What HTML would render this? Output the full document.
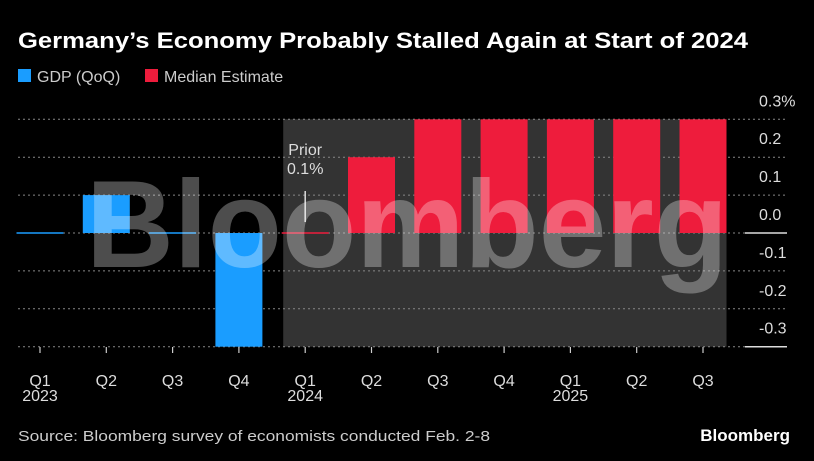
<!DOCTYPE html>
<html><head><meta charset="utf-8"><style>
body{margin:0;background:#000;width:814px;height:461px;overflow:hidden;font-family:"Liberation Sans",sans-serif}
svg{display:block}
</style></head><body>
<svg width="814" height="461">
<text x="18" y="48" fill="#fff" font-size="22" font-weight="bold" textLength="730" lengthAdjust="spacingAndGlyphs">Germany’s Economy Probably Stalled Again at Start of 2024</text>
<g>
<rect x="18" y="69" width="13" height="13" fill="#1a9dff"/>
<text x="37" y="82" fill="#ccc" font-size="16">GDP (QoQ)</text>
<rect x="145" y="69" width="13" height="13" fill="#ee1c3c"/>
<text x="164" y="82" fill="#ccc" font-size="16">Median Estimate</text>
</g>
<g id="plot"></g>
<text x="18" y="441" fill="#ccc" font-size="15" textLength="472" lengthAdjust="spacingAndGlyphs">Source: Bloomberg survey of economists conducted Feb. 2-8</text>
<text x="790" y="441" fill="#fff" font-size="17" font-weight="bold" text-anchor="end">Bloomberg</text>
</svg>
<script>
const categories=["Q1","Q2","Q3","Q4","Q1","Q2","Q3","Q4","Q1","Q2","Q3"];
const years=["2023","","","","2024","","","","2025","",""];
const gdpValues=[0.0,0.1,0.0,-0.3,null,null,null,null,null,null,null];
const medianValues=[null,null,null,null,0.0,0.2,0.3,0.3,0.3,0.3,0.3];
const yTicks=[0.3,0.2,0.1,0.0,-0.1,-0.2,-0.3];
const yTickLabels=["0.3%","0.2","0.1","0.0","-0.1","-0.2","-0.3"];
const NS="http://www.w3.org/2000/svg";
const g=document.getElementById('plot');
const x0=40,step=66.3,bw=47;
function xc(i){return x0+i*step;}
function y(v){return 233-v*(113.7/0.3);}
function mk(t,a,p){const e=document.createElementNS(NS,t);for(const k in a)e.setAttribute(k,a[k]);(p||g).appendChild(e);return e;}
let sh=mk('rect',{x:xc(4)-22,y:y(0.3),width:xc(10)+bw/2-(xc(4)-22),height:y(-0.3)-y(0.3),fill:'#333'});


yTicks.forEach((t,i)=>{
  const l=mk('line',{x1:18,x2:786,y1:y(t),y2:y(t),stroke:'#888','stroke-dasharray':'2,3','stroke-width':1});
  
  
  const tx=mk('text',{x:759,y:y(t)-13,fill:'#ddd','font-size':'16'});
  tx.textContent=yTickLabels[i];
  
  
});
[0,-0.3].forEach(t=>{const l=mk('line',{x1:745,x2:787,y1:y(t),y2:y(t),stroke:'#ddd','stroke-width':1.5});

});
function bars(vals,color,name){
  vals.forEach((v,i)=>{
    if(v===null)return;
    let top=Math.min(y(v),y(0)),h=Math.abs(y(v)-y(0));
    if(h<1.5){h=1.5;top=y(0)-0.75;}
    const r=mk('rect',{x:xc(i)-bw/2,y:top,width:bw,height:h,fill:color});
    
    
  });
}
bars(gdpValues,'#1a9dff','gdp');
bars(medianValues,'#ee1c3c','median');
categories.forEach((c,i)=>{
  const tk=mk('line',{x1:xc(i),x2:xc(i),y1:347,y2:353,stroke:'#ccc','stroke-width':1.2});
  
  
  const t=mk('text',{x:xc(i),y:386,fill:'#ddd','font-size':'16','text-anchor':'middle'});
  t.textContent=c;
  
  
  if(years[i]){const yt=mk('text',{x:xc(i),y:401,fill:'#ddd','font-size':'16','text-anchor':'middle'});
  yt.textContent=years[i];
  
  }
});
const pa=mk('line',{x1:xc(4),x2:xc(4),y1:191,y2:222,stroke:'#ddd','stroke-width':1.5});


const p1=mk('text',{x:xc(4),y:155,fill:'#ddd','font-size':'16','text-anchor':'middle'});p1.textContent='Prior';


const p2=mk('text',{x:xc(4),y:174,fill:'#ddd','font-size':'16','text-anchor':'middle'});p2.textContent='0.1%';


const wm=mk('text',{x:86,y:267,fill:'#fff','fill-opacity':'0.3','font-size':'124','font-weight':'bold',textLength:'642',lengthAdjust:'spacingAndGlyphs'});
wm.textContent='Bloomberg';


</script>
</body></html>
